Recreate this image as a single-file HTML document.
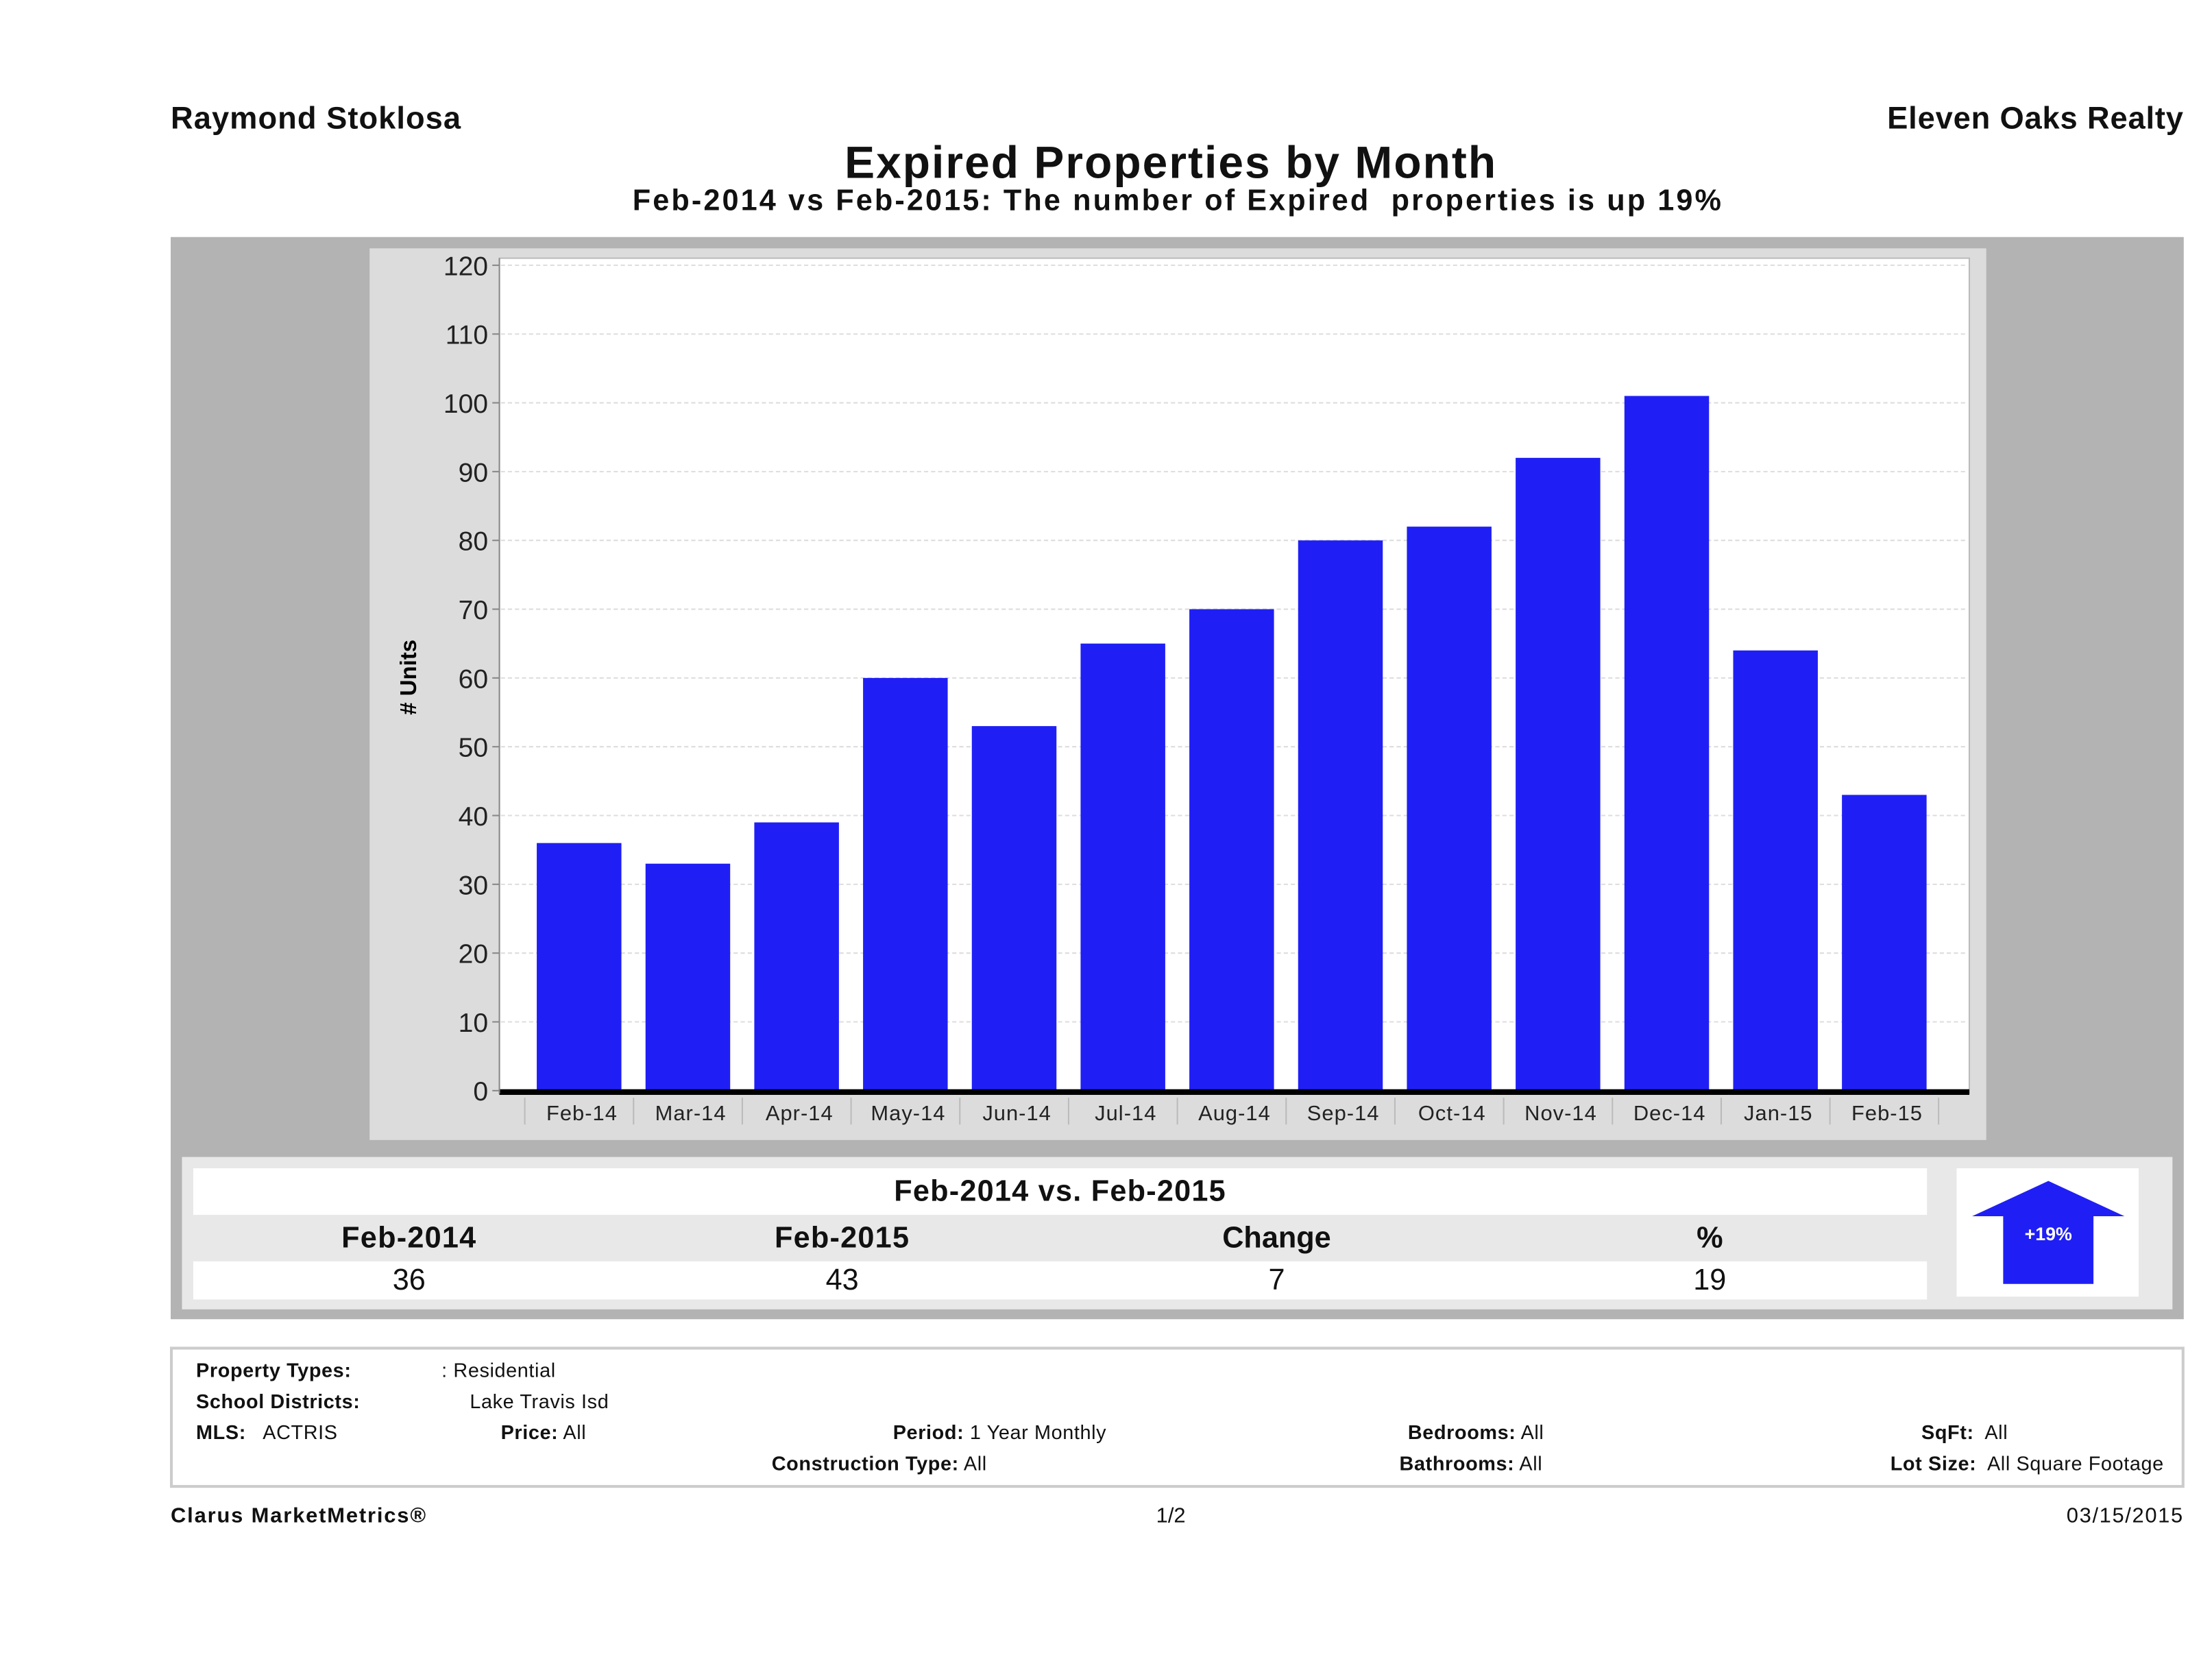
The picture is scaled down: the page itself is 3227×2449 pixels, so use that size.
<!DOCTYPE html>
<html><head><meta charset="utf-8">
<style>
html,body{margin:0;padding:0;background:#fff;}
body{width:3227px;height:2448px;overflow:hidden;}
#page{position:absolute;left:0;top:0;width:1568px;height:1190px;transform:scale(2.058);transform-origin:0 0;font-family:"Liberation Sans",sans-serif;color:#111;}
.t{position:absolute;white-space:nowrap;}
.b{font-weight:bold;}
.f{font-size:14px;letter-spacing:0.3px;}
</style></head><body>
<div id="page">
<div class="t b" style="left:121px;top:71px;font-size:22px;letter-spacing:0.5px;">Raymond Stoklosa</div>
<div class="t b" style="right:20px;top:71px;font-size:22px;letter-spacing:0.4px;">Eleven Oaks Realty</div>
<div class="t b" style="left:0;width:1660px;text-align:center;top:97px;font-size:32px;letter-spacing:1px;">Expired Properties by Month</div>
<div class="t b" style="left:0;width:1670px;text-align:center;top:131px;font-size:21px;letter-spacing:1.5px;">Feb-2014 vs Feb-2015: The number of Expired&nbsp; properties is up 19%</div>

<svg id="chart" style="position:absolute;left:0;top:0;" width="1568" height="1190">
<rect x="121" y="168" width="1427" height="767" fill="#b3b3b3"/>
<rect x="262" y="176" width="1146" height="632" fill="#dcdcdc"/>
<rect x="354" y="183" width="1042" height="592" fill="#fff" stroke="#bbb"/>
<g id="grid"></g><g id="bars"></g><g id="axes"></g>
<text x="295" y="480" transform="rotate(-90 295 480)" text-anchor="middle" font-size="16" font-weight="bold" font-family="Liberation Sans, sans-serif"># Units</text>

<rect x="129" y="820" width="1411" height="108" fill="#e8e8e8"/>
<rect x="137" y="828" width="1229" height="33" fill="#fff"/>
<rect x="137" y="894" width="1229" height="27" fill="#fff"/>
<rect x="1387" y="828" width="129" height="91" fill="#fff"/>
<polygon points="1452,837 1506,862 1484,862 1484,910 1420,910 1420,862 1398,862" fill="#1f1ff5"/>
<text x="1452" y="879" text-anchor="middle" fill="#fff" font-size="13" font-weight="bold" font-family="Liberation Sans, sans-serif">+19%</text>
<rect x="121.5" y="955.5" width="1426" height="98" fill="#fff" stroke="#ccc" stroke-width="2"/>
</svg>

<div class="t b" style="left:137px;width:1229px;text-align:center;top:833px;font-size:21px;letter-spacing:0.6px;">Feb-2014 vs. Feb-2015</div>
<div class="t b" style="left:190px;width:200px;text-align:center;top:866px;font-size:21px;letter-spacing:0.6px;">Feb-2014</div>
<div class="t b" style="left:497px;width:200px;text-align:center;top:866px;font-size:21px;letter-spacing:0.6px;">Feb-2015</div>
<div class="t b" style="left:805px;width:200px;text-align:center;top:866px;font-size:21px;">Change</div>
<div class="t b" style="left:1112px;width:200px;text-align:center;top:866px;font-size:21px;">%</div>
<div class="t" style="left:190px;width:200px;text-align:center;top:896px;font-size:21px;">36</div>
<div class="t" style="left:497px;width:200px;text-align:center;top:896px;font-size:21px;">43</div>
<div class="t" style="left:805px;width:200px;text-align:center;top:896px;font-size:21px;">7</div>
<div class="t" style="left:1112px;width:200px;text-align:center;top:896px;font-size:21px;">19</div>

<div class="t f b" style="left:139px;top:963px;">Property Types:</div>
<div class="t f" style="left:313px;top:963px;">: Residential</div>
<div class="t f b" style="left:139px;top:985px;">School Districts:</div>
<div class="t f" style="left:333px;top:985px;">Lake Travis Isd</div>
<div class="t f" style="left:139px;top:1007px;"><b>MLS:</b>&nbsp;&nbsp; ACTRIS</div>
<div class="t f" style="left:355px;top:1007px;"><b>Price:</b> All</div>
<div class="t f" style="left:633px;top:1007px;"><b>Period:</b> 1 Year Monthly</div>
<div class="t f" style="left:998px;top:1007px;"><b>Bedrooms:</b> All</div>
<div class="t f" style="left:1362px;top:1007px;"><b>SqFt:</b>&nbsp; All</div>
<div class="t f" style="left:547px;top:1029px;"><b>Construction Type:</b> All</div>
<div class="t f" style="left:992px;top:1029px;"><b>Bathrooms:</b> All</div>
<div class="t f" style="left:1340px;top:1029px;"><b>Lot Size:</b>&nbsp; All Square Footage</div>

<div class="t b" style="left:121px;top:1066px;font-size:15px;letter-spacing:0.9px;">Clarus MarketMetrics®</div>
<div class="t" style="left:800px;width:60px;text-align:center;top:1066px;font-size:15px;">1/2</div>
<div class="t" style="right:20px;top:1066px;font-size:15px;letter-spacing:0.8px;">03/15/2015</div>
</div>
<script>
const categories=["Feb-14","Mar-14","Apr-14","May-14","Jun-14","Jul-14","Aug-14","Sep-14","Oct-14","Nov-14","Dec-14","Jan-15","Feb-15"];
const values=[36,33,39,60,53,65,70,80,82,92,101,64,43];
const yTicks=[0,10,20,30,40,50,60,70,80,90,100,110,120];
const NS="http://www.w3.org/2000/svg";
const y0=773,yTop=188,yMax=120;
function yScale(v){return y0-(v/yMax)*(y0-yTop);}
function xCenter(i){return 410.5+i*77.1;}
const bw=60;
function mk(tag,attrs,parent){const e=document.createElementNS(NS,tag);for(const k in attrs)e.setAttribute(k,attrs[k]);parent.appendChild(e);return e;}
const grid=document.getElementById('grid'),bars=document.getElementById('bars'),axes=document.getElementById('axes');
yTicks.forEach(t=>{
  const y=yScale(t);
  const g=mk('line',{x1:355,x2:1395,y1:y,y2:y,stroke:'#ddd','stroke-dasharray':'3,2'},grid);
  
  
  const tk=mk('line',{x1:349,x2:354,y1:y,y2:y,stroke:'#888'},axes);
  
  
  const tx=mk('text',{x:346,y:y+7,'text-anchor':'end','font-size':'19','font-family':'Liberation Sans, sans-serif',fill:'#222'},axes);
  tx.textContent=t;
  
  
});
values.forEach((v,i)=>{
  const y=yScale(v);
  const r=mk('rect',{x:xCenter(i)-bw/2,y:y,width:bw,height:y0-y,fill:'#1f1ff5'},bars);
  
  
  const lb=mk('text',{x:xCenter(i)+2,y:794,'text-anchor':'middle','font-size':'15','font-family':'Liberation Sans, sans-serif','letter-spacing':'0.5',fill:'#222'},axes);
  lb.textContent=categories[i];
  
  
  const sp=mk('line',{x1:xCenter(i)-38.5,x2:xCenter(i)-38.5,y1:778,y2:797,stroke:'#bbb'},axes);
  
  
});
const sp2=mk('line',{x1:xCenter(12)+38.5,x2:xCenter(12)+38.5,y1:778,y2:797,stroke:'#bbb'},axes);


const ax=mk('line',{x1:354,x2:1396,y1:774,y2:774,stroke:'#000','stroke-width':'4'},axes);


const ay=mk('line',{x1:354,x2:354,y1:183,y2:775,stroke:'#888'},axes);


</script>
</body></html>
